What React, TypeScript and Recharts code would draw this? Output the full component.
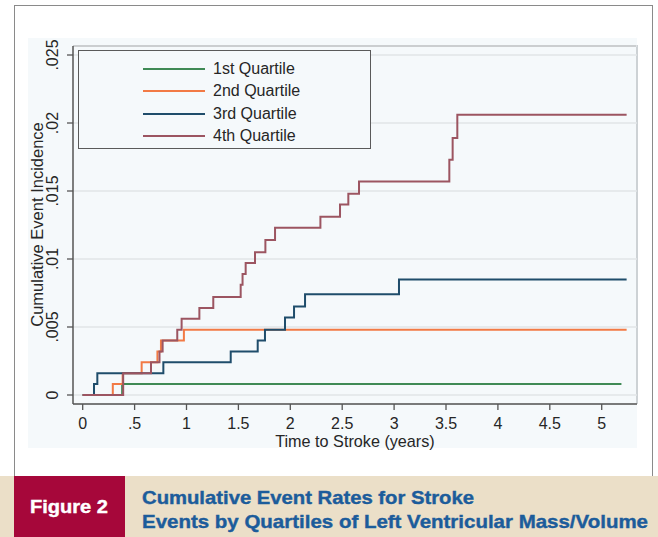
import React from "react";
import { LineChart, Line, XAxis, YAxis, CartesianGrid, Legend } from "recharts";

// ---- data ----
const q1Times = [0, 0.38, 5.19];
const q1Values = [0, 0.0008, 0.0008];

const q2Times = [0, 0.29, 0.385, 0.568, 0.72, 0.754, 0.975, 5.24];
const q2Values = [0, 0.0008, 0.0016, 0.0024, 0.0032, 0.004, 0.0048, 0.0048];

const q3Times = [0, 0.109, 0.141, 0.777, 1.426, 1.686, 1.756, 1.949, 2.036, 2.142, 3.047, 5.24];
const q3Values = [0, 0.0008, 0.0016, 0.0024, 0.0032, 0.004, 0.0048, 0.0057, 0.0065, 0.0074, 0.0085, 0.0085];

const q4Times = [0, 0.39, 0.658, 0.74, 0.77, 0.911, 0.953, 1.124, 1.258, 1.522, 1.54, 1.57, 1.66, 1.76, 1.853, 2.29, 2.479, 2.559, 2.662, 3.532, 3.564, 3.609, 5.24];
const q4Values = [0, 0.0016, 0.0024, 0.0032, 0.004, 0.0048, 0.0056, 0.0064, 0.0072, 0.0081, 0.0089, 0.0097, 0.0105, 0.0114, 0.0123, 0.0131, 0.014, 0.0148, 0.0157, 0.0173, 0.0189, 0.0206, 0.0206];

const seriesNames = ["1st Quartile", "2nd Quartile", "3rd Quartile", "4th Quartile"];
const seriesColors = ["#3f8a55", "#f27a45", "#1f4d6b", "#9c5561"];

const xTicks = [0, 0.5, 1, 1.5, 2, 2.5, 3, 3.5, 4, 4.5, 5];
const xTickLabels = ["0", ".5", "1", "1.5", "2", "2.5", "3", "3.5", "4", "4.5", "5"];
const yTicks = [0, 0.005, 0.01, 0.015, 0.02, 0.025];
const yTickLabels = ["0", ".005", ".01", ".015", ".02", ".025"];

const xTitle = "Time to Stroke (years)";
const yTitle = "Cumulative Event Incidence";
const figureLabel = "Figure 2";
const captionLine1 = "Cumulative Event Rates for Stroke";
const captionLine2 = "Events by Quartiles of Left Ventricular Mass/Volume";

const toPoints = (ts: number[], vs: number[]) => ts.map((t, i) => ({ t, v: vs[i] }));
const series = [
  toPoints(q1Times, q1Values),
  toPoints(q2Times, q2Values),
  toPoints(q3Times, q3Values),
  toPoints(q4Times, q4Values),
];

const FONT = "'Liberation Sans', Arial, Helvetica, sans-serif";
const PLOT_BG = "#f5f9fb";

const XTick = (props: any) => {
  const { x, payload } = props;
  const i = xTicks.indexOf(payload.value);
  return (
    <text x={x} y={428.5} textAnchor="middle" fontSize={16} fontFamily={FONT} fill="#262626">
      {i >= 0 ? xTickLabels[i] : ""}
    </text>
  );
};

const YTick = (props: any) => {
  const { y, payload } = props;
  const i = yTicks.indexOf(payload.value);
  const cx = 53;
  return (
    <text
      x={cx}
      y={y}
      transform={`rotate(-90 ${cx} ${y})`}
      textAnchor="middle"
      dominantBaseline="central"
      fontSize={16}
      fontFamily={FONT}
      fill="#262626"
    >
      {i >= 0 ? yTickLabels[i] : ""}
    </text>
  );
};

const LegendBox = () => (
  <div
    style={{
      position: "relative",
      width: 293,
      height: 99,
      boxSizing: "border-box",
      border: "1.5px solid #5a5a5a",
      background: PLOT_BG,
      fontFamily: FONT,
    }}
  >
    {seriesNames.map((name, i) => (
      <div key={name} style={{ position: "absolute", left: 0, top: 18 + i * 22.4 - 10, height: 20, width: "100%" }}>
        <div
          style={{
            position: "absolute",
            left: 64,
            top: 9,
            width: 62,
            height: 2,
            background: seriesColors[i],
          }}
        />
        <div
          style={{
            position: "absolute",
            left: 134,
            top: 0,
            lineHeight: "20px",
            fontSize: 16,
            color: "#262626",
            whiteSpace: "nowrap",
          }}
        >
          {name}
        </div>
      </div>
    ))}
  </div>
);

export default function App() {
  return (
    <div
      style={{
        position: "absolute",
        left: 0,
        top: 0,
        width: 658,
        height: 537,
        background: "#ffffff",
        overflow: "hidden",
      }}
    >
      {/* outer frame */}
      <div
        style={{
          position: "absolute",
          left: 14,
          top: 5,
          width: 639,
          height: 472,
          borderLeft: "1.5px solid #8a8a8a",
          borderTop: "1.5px solid #8a8a8a",
          borderRight: "1.5px solid #8a8a8a",
          boxSizing: "border-box",
        }}
      />
      {/* plot region background */}
      <div style={{ position: "absolute", left: 28, top: 38, width: 609, height: 410, background: PLOT_BG }} />
      {/* plot top / right border */}
      <div style={{ position: "absolute", left: 73, top: 45, width: 564, height: 2, background: "#8c8c8c" }} />
      <div style={{ position: "absolute", left: 636, top: 45, width: 1.5, height: 359, background: "#cdd2d5" }} />

      <div style={{ position: "absolute", left: 0, top: 0 }}>
        <LineChart width={658} height={537} margin={{ top: 46, right: 21, bottom: 93, left: 13 }}>
          <CartesianGrid vertical={false} stroke="#e0e4e7" strokeWidth={1.3} />
          <XAxis
            type="number"
            dataKey="t"
            domain={[-0.0934, 5.34]}
            allowDataOverflow
            ticks={xTicks}
            interval={0}
            tick={<XTick />}
            tickSize={6}
            tickLine={{ stroke: "#555", strokeWidth: 1.3 }}
            axisLine={{ stroke: "#555", strokeWidth: 1.5 }}
            height={40}
          />
          <YAxis
            type="number"
            dataKey="v"
            domain={[-0.000662, 0.025662]}
            allowDataOverflow
            ticks={yTicks}
            interval={0}
            tick={<YTick />}
            tickSize={6}
            tickLine={{ stroke: "#555", strokeWidth: 1.3 }}
            axisLine={{ stroke: "#555", strokeWidth: 1.5 }}
            width={60}
          />
          <Legend
            layout="vertical"
            align="center"
            verticalAlign="middle"
            content={<LegendBox />}
            wrapperStyle={{ position: "absolute", left: 78, top: 50, width: 293, height: 99 }}
          />
          {series.map((data, i) => (
            <Line
              key={seriesNames[i]}
              name={seriesNames[i]}
              data={data}
              dataKey="v"
              type="stepAfter"
              stroke={seriesColors[i]}
              strokeWidth={2}
              dot={false}
              activeDot={false}
              isAnimationActive={false}
            />
          ))}
        </LineChart>
      </div>

      {/* axis titles */}
      <svg width={658} height={537} style={{ position: "absolute", left: 0, top: 0, pointerEvents: "none" }}>
        <text x={355} y={447} textAnchor="middle" fontSize={16.2} fontFamily={FONT} fill="#262626">
          {xTitle}
        </text>
        <text
          x={42.5}
          y={224.5}
          transform="rotate(-90 42.5 224.5)"
          textAnchor="middle"
          fontSize={16.5}
          fontFamily={FONT}
          fill="#262626"
        >
          {yTitle}
        </text>
      </svg>

      {/* caption band */}
      <div style={{ position: "absolute", left: 0, top: 476, width: 658, height: 61, background: "#ebdfc8" }} />
      <div style={{ position: "absolute", left: 14, top: 476, width: 111, height: 61, background: "#a6073a" }} />
      <svg width={658} height={61} style={{ position: "absolute", left: 0, top: 476 }}>
        <text
          x={30}
          y={37.3}
          fontSize={18.5}
          fontWeight="bold"
          fontFamily={FONT}
          fill="#ffffff"
          stroke="#ffffff"
          strokeWidth={0.4}
          textLength={78}
          lengthAdjust="spacingAndGlyphs"
        >
          {figureLabel}
        </text>
        <text
          x={142}
          y={28.3}
          fontSize={18.5}
          fontWeight="bold"
          fontFamily={FONT}
          fill="#1c5c9b"
          stroke="#1c5c9b"
          strokeWidth={0.4}
          textLength={332}
          lengthAdjust="spacingAndGlyphs"
        >
          {captionLine1}
        </text>
        <text
          x={142}
          y={51.7}
          fontSize={18.5}
          fontWeight="bold"
          fontFamily={FONT}
          fill="#1c5c9b"
          stroke="#1c5c9b"
          strokeWidth={0.4}
          textLength={506}
          lengthAdjust="spacingAndGlyphs"
        >
          {captionLine2}
        </text>
      </svg>
    </div>
  );
}
